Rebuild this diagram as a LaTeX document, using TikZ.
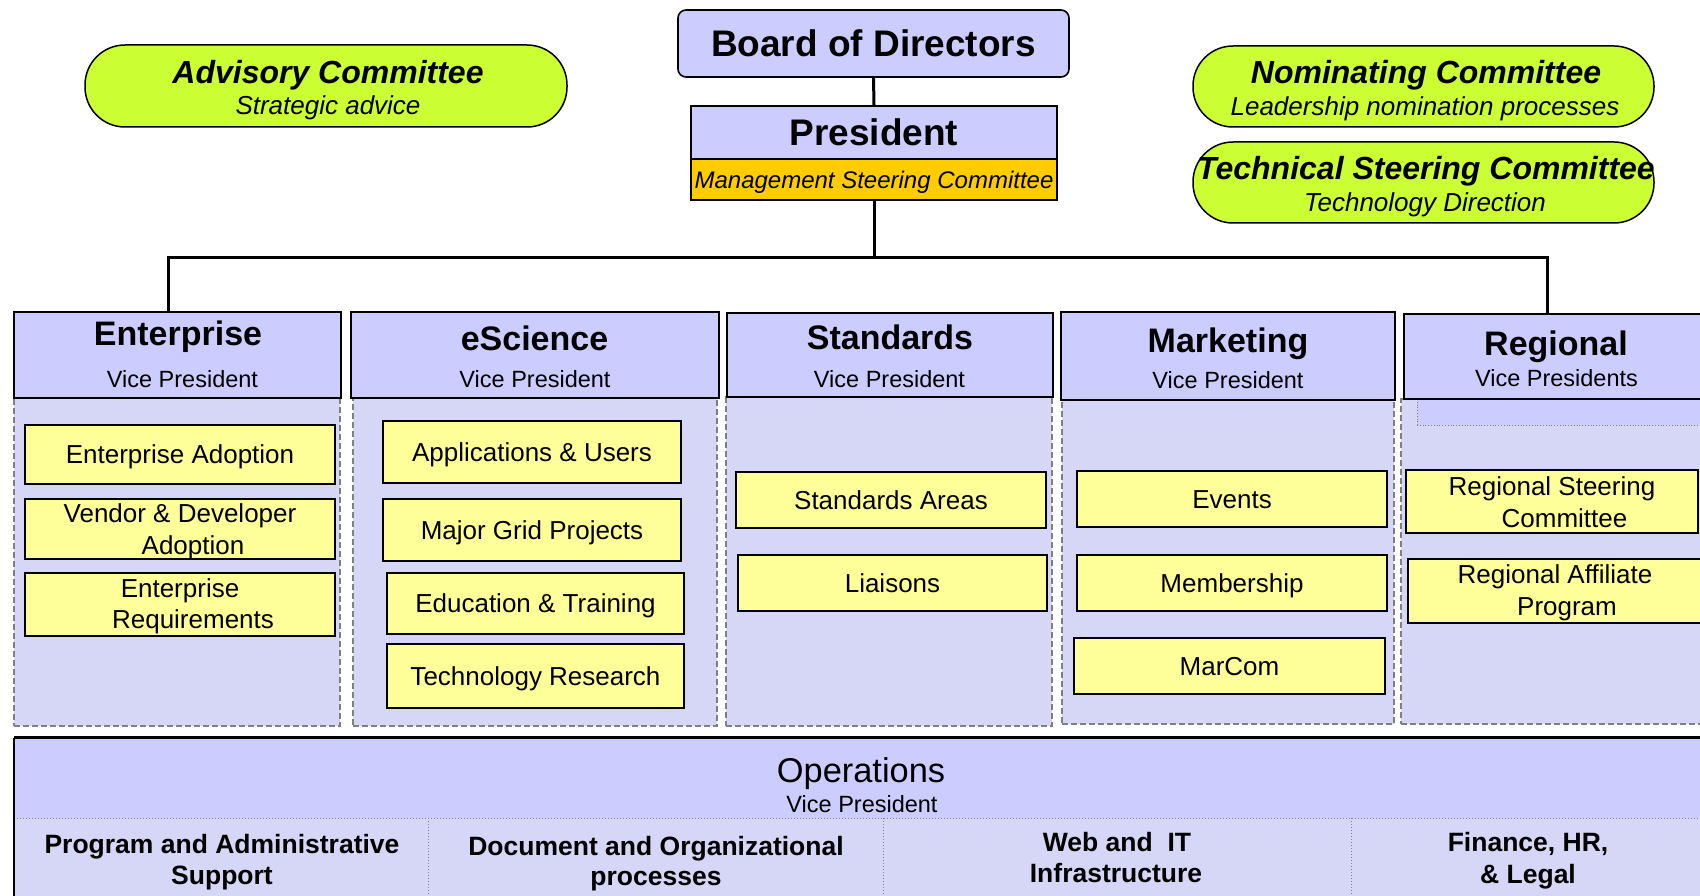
\documentclass[tikz,border=0pt]{standalone}
\usepackage{fontspec}
\setmainfont{Liberation Sans}
\definecolor{lav}{HTML}{CCCCFF}
\definecolor{tex}{RGB}{214,214,246}
\definecolor{yel}{HTML}{FFFF99}
\definecolor{orng}{HTML}{FFCC00}
\definecolor{limec}{HTML}{CCFF33}
\definecolor{dgray}{HTML}{808080}
\newcommand{\hdTitle}{\fontsize{34}{40}\selectfont\bfseries}
\newcommand{\hdSub}{\fontsize{23.5}{28}\selectfont}
\newcommand{\itemF}{\fontsize{26}{30}\selectfont}
\newcommand{\opsLab}{\fontsize{26.5}{30}\selectfont\bfseries}
\newcommand{\commT}{\fontsize{32}{38}\selectfont\bfseries\itshape}
\newcommand{\commS}{\fontsize{26}{30}\selectfont\itshape}
% style, name, x1, x2, y1, y2, text
\newcommand{\rbox}[7]{\node[#1, minimum width={#4-#3}, minimum height={#6-#5}] (#2) at ({(#3+#4)/2},{(#5+#6)/2}) {#7};}
\begin{document}
\begin{tikzpicture}[x=1pt,y=-1pt,
  hdr/.style={draw=black, line width=1.6pt, fill=lav, inner sep=0pt},
  region/.style={draw=dgray, dash pattern=on 6pt off 3pt, line width=1.5pt, fill=tex, inner sep=0pt},
  ybox/.style={draw=black, line width=1.8pt, fill=yel, inner sep=0pt, font=\itemF, text height=18.5pt, text depth=0pt},
  comm/.style={draw=black, line width=1.5pt, fill=limec, rounded corners=40pt, inner sep=0pt},
  conn/.style={line width=3pt},
  tl/.style={anchor=base, inner sep=0pt},
  dotline/.style={draw=dgray, line width=1pt, dotted},
]
\useasboundingbox (0,0) rectangle (1700,896);
\clip (0,0) rectangle (1700,896);

% committees
\rbox{comm}{adv}{85}{567}{45}{127}{}
\node[tl, font=\commT] (advt) at (328,84) {Advisory Committee};
\node[tl, font=\commS] (advs) at (328,115) {Strategic advice};
\rbox{comm}{nom}{1193}{1654}{46}{127}{}
\node[tl, font=\commT] (nomt) at (1426,84) {Nominating Committee};
\node[tl, font=\commS] (noms) at (1425,116) {Leadership nomination processes};
\rbox{comm}{tsc}{1193}{1654}{142}{223}{}
\node[tl, font=\commT] (tsct) at (1426,180) {Technical Steering Committee};
\node[tl, font=\commS] (tscs) at (1425,212) {Technology Direction};

% board and president
\rbox{hdr, rounded corners=8pt}{board}{678}{1069}{10}{77}{\fontsize{37}{44}\selectfont\bfseries Board of Directors}
\rbox{hdr}{pres}{691}{1057}{106}{159}{\fontsize{37}{44}\selectfont\bfseries President}
\rbox{hdr, fill=orng, text height=17.3pt, text depth=0pt}{msc}{691}{1057}{159}{200}{\fontsize{24}{28}\selectfont\itshape Management Steering Committee}

% regions
\rbox{region}{entR}{14}{340}{398}{726}{}
\rbox{region}{escR}{353}{717}{398}{726}{}
\rbox{region}{stdR}{726}{1052}{397}{726}{}
\rbox{region}{mktR}{1062}{1394}{400}{724}{}
\rbox{region}{regR}{1401}{1712}{399}{724}{}
\rbox{draw=dgray, fill=lav, line width=0.8pt, dotted, inner sep=0pt}{regin}{1417}{1712}{399}{425}{}

% headers
\rbox{hdr}{ent}{14}{341}{312}{398}{}
\node[tl, font=\hdTitle] (entt) at (178,345) {Enterprise};
\node[tl, font=\hdSub] (ents) at (182.5,387) {Vice President};
\rbox{hdr}{esc}{351}{719}{312}{398}{}
\node[tl, font=\hdTitle] (esct) at (534.5,350) {eScience};
\node[tl, font=\hdSub] (escs) at (535,387) {Vice President};
\rbox{hdr}{std}{727}{1053}{313}{397}{}
\node[tl, font=\hdTitle] (stdt) at (890,349) {Standards};
\node[tl, font=\hdSub] (stds) at (889.5,387) {Vice President};
\rbox{hdr}{mkt}{1061}{1395}{312}{400}{}
\node[tl, font=\hdTitle] (mktt) at (1228,352) {Marketing};
\node[tl, font=\hdSub] (mkts) at (1228,388) {Vice President};
\rbox{hdr}{reg}{1404}{1712}{314}{399}{}
\node[tl, font=\hdTitle] (regt) at (1556,355) {Regional};
\node[tl, font=\hdSub] (regs) at (1556.5,386) {Vice Presidents};

% yellow boxes
\rbox{ybox}{ea}{25}{335}{425}{484}{Enterprise Adoption}
\rbox{ybox}{vd}{25}{335}{499}{559}{}
\node[tl, font=\itemF] (vd1) at (180,522) {Vendor \& Developer};
\node[tl, font=\itemF] (vd2) at (193,554) {Adoption};
\rbox{ybox}{er}{25}{335}{573}{636}{}
\node[tl, font=\itemF] (er1) at (180,597) {Enterprise};
\node[tl, font=\itemF] (er2) at (193,628) {Requirements};

\rbox{ybox}{au}{383}{681}{421}{483}{Applications \& Users}
\rbox{ybox}{mg}{383}{681}{499}{561}{Major Grid Projects}
\rbox{ybox}{et}{387}{684}{573}{634}{Education \& Training}
\rbox{ybox}{tr}{387}{684}{644}{708}{Technology Research}

\rbox{ybox}{sa}{736}{1046}{472}{528}{Standards Areas}
\rbox{ybox}{li}{738}{1047}{555}{611}{Liaisons}

\rbox{ybox}{ev}{1077}{1387}{471}{527}{Events}
\rbox{ybox}{mb}{1077}{1387}{555}{611}{Membership}
\rbox{ybox}{mc}{1074}{1385}{638}{694}{MarCom}

\rbox{ybox}{rsc}{1406}{1698}{470}{533}{}
\node[tl, font=\itemF] (rsc1) at (1552,495) {Regional Steering};
\node[tl, font=\itemF] (rsc2) at (1564.5,527) {Committee};
\rbox{ybox}{rap}{1408}{1712}{559}{623}{}
\node[tl, font=\itemF] (rap1) at (1555,583) {Regional Affiliate};
\node[tl, font=\itemF] (rap2) at (1567,615) {Program};

% connectors
\coordinate (busL) at (168,257);
\coordinate (busR) at (1547,257);
\draw[conn] (board.south) -- (pres.north);
\draw[conn] (msc.south) -- (msc.south |- busL);
\draw[conn, line cap=rect] (busL |- ent.north) -- (busL) -- (busR) -- (busR |- reg.north);

% operations
\rbox{fill=lav, inner sep=0pt}{opsh}{14}{1712}{738}{818}{}
\rbox{fill=tex, inner sep=0pt}{opsb}{14}{1712}{818}{910}{}
\draw[dotline] (opsh.south west) -- (opsh.south east);
\coordinate (v1) at (428,818); \coordinate (v2) at (883,818); \coordinate (v3) at (1351,818);
\draw[dotline] (v1) -- (v1 |- opsb.south);
\draw[dotline] (v2) -- (v2 |- opsb.south);
\draw[dotline] (v3) -- (v3 |- opsb.south);
\draw[line width=3pt] (opsh.north west) -- (opsh.north east);
\draw[line width=2pt] (opsh.north west) -- (opsb.south west);
\node[tl, font=\fontsize{34.4}{40}\selectfont] (opst) at (861,782) {Operations};
\node[tl, font=\hdSub] (opss) at (862,812) {Vice President};
\node[tl, font=\opsLab] (pa1) at (222,853) {Program and Administrative};
\node[tl, font=\opsLab] (pa2) at (222,884) {Support};
\node[tl, font=\opsLab] (do1) at (656,855) {Document and Organizational};
\node[tl, font=\opsLab] (do2) at (656,885) {processes};
\node[tl, font=\opsLab] (we1) at (1117,851) {Web and\ \ IT};
\node[tl, font=\opsLab] (we2) at (1116,882) {Infrastructure};
\node[tl, font=\opsLab] (fi1) at (1528,851) {Finance, HR,};
\node[tl, font=\opsLab] (fi2) at (1528,883) {\& Legal};
\end{tikzpicture}
\end{document}
